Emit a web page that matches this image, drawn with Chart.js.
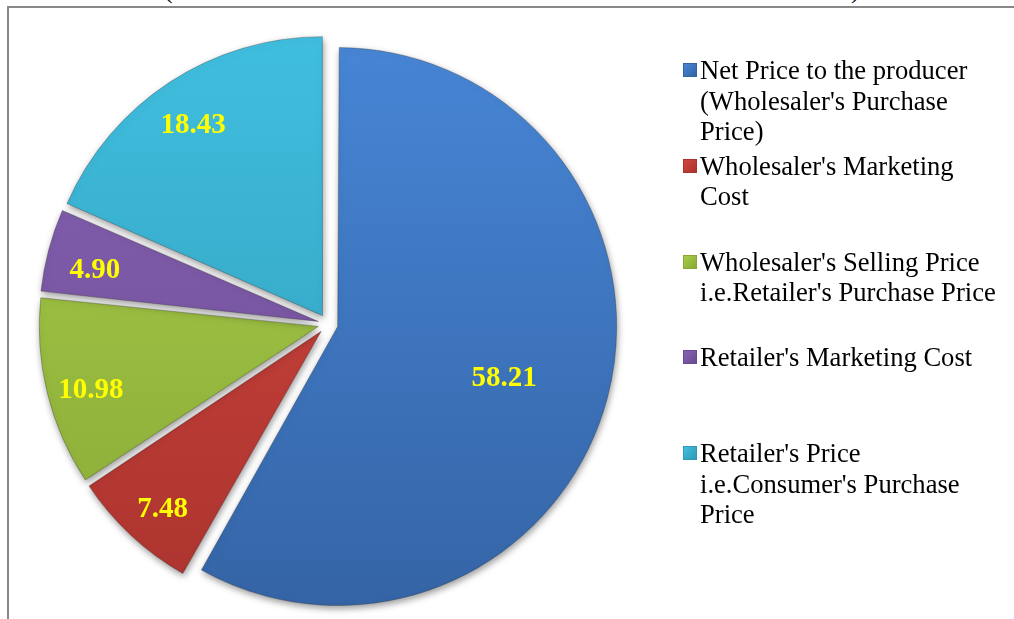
<!DOCTYPE html>
<html>
<head>
<meta charset="utf-8">
<script src="https://cdn.jsdelivr.net/npm/chart.js@4.4.1/dist/chart.umd.min.js"></script>
<style>
  html, body { margin: 0; padding: 0; background: #fff; overflow: hidden; }
  #wrap { position: relative; width: 1014px; height: 619px; overflow: hidden; }
  #frame {
    position: absolute; left: 7px; top: 6px; width: 1010px; height: 640px;
    border-left: 2px solid #888; border-top: 2px solid #888; box-sizing: border-box;
  }
  #chart { position: absolute; left: 0; top: 0; }
  .paren {
    position: absolute; top: -25px; font: 26px "Liberation Serif", serif;
    line-height: 30px; color: #000;
  }
  #legend { position: absolute; left: 0; top: 0; }
  .item {
    position: absolute; left: 700px; width: 310px;
    font: 26.6px "Liberation Serif", "Times New Roman", serif;
    line-height: 30.5px; color: #000; white-space: nowrap;
  }
  .mark {
    position: absolute; left: -17px; top: 8px; width: 14px; height: 14px;
    box-sizing: border-box;
  }
</style>
</head>
<body>
<div id="wrap">
  <div id="frame"></div>
  <span class="paren" style="left:164px">(</span>
  <span class="paren" style="left:851px">)</span>
  <canvas id="chart" width="1014" height="640"></canvas>
  <div id="legend"></div>
</div>
<script>
// shares of the consumer rupee, %
const categories = [
  ["Net Price to the producer", "(Wholesaler's Purchase", "Price)"],
  ["Wholesaler's Marketing", "Cost"],
  ["Wholesaler's Selling Price", "i.e.Retailer's Purchase Price"],
  ["Retailer's Marketing Cost"],
  ["Retailer's Price", "i.e.Consumer's Purchase", "Price"],
];
const shares = [58.21, 7.48, 10.98, 4.90, 18.43];
const shareLabels = ['58.21', '7.48', '10.98', '4.90', '18.43'];

// light (top) / dark (bottom) shade for each slice
const lightColors = ['#4786d6', '#d2463f', '#a8cf4a', '#8763b3', '#40bfe0'];
const darkColors = ['#3463a4', '#aa332e', '#88a736', '#6a4a92', '#3199b5'];

const ctx = document.getElementById('chart').getContext('2d');

const sliceFill = (context) => {
  const area = context.chart.chartArea;
  if (!area) return lightColors[context.dataIndex];
  const g = context.chart.ctx.createLinearGradient(0, area.top + 10, 0, area.bottom);
  g.addColorStop(0, lightColors[context.dataIndex]);
  g.addColorStop(1, darkColors[context.dataIndex]);
  return g;
};

// Chart.js grows the radius of exploded arcs a bit; undo that so all slices match
const evenRadius = {
  id: 'evenRadius',
  afterDatasetUpdate(chart) {
    chart.getDatasetMeta(0).data.forEach((arc) => {
      const fix = 1 - Math.sin(Math.min(Math.PI, arc.circumference));
      arc.outerRadius -= (arc.options.offset / 4) * fix;
    });
  },
};

// soft drop shadow under the slices
const shadowPlugin = {
  id: 'sliceShadow',
  beforeDatasetsDraw(chart) {
    const c = chart.ctx;
    c.save();
    c.shadowColor = 'rgba(0,0,0,0.4)';
    c.shadowBlur = 7;
    c.shadowOffsetX = 1;
    c.shadowOffsetY = 3;
  },
  afterDatasetsDraw(chart) {
    chart.ctx.restore();
  },
};

// yellow value labels inside the slices
const valuePlugin = {
  id: 'sliceValues',
  afterDraw(chart) {
    const c = chart.ctx;
    const meta = chart.getDatasetMeta(0);
    const total = shares.reduce((a, b) => a + b, 0);
    c.save();
    c.font = 'bold 29px "Liberation Serif", serif';
    c.fillStyle = '#ffff00';
    c.textAlign = 'center';
    c.textBaseline = 'middle';
    meta.data.forEach((arc, i) => {
      const mid = (arc.startAngle + arc.endAngle) / 2;
      const shift = arc.options.offset / 4;
      const cx = arc.x + Math.cos(mid) * shift;
      const cy = arc.y + Math.sin(mid) * shift;
      const frac = shares[i] / total > 0.5 ? 0.64 : 0.85;
      const r = arc.outerRadius * frac;
      c.fillText(shareLabels[i], cx + Math.cos(mid) * r, cy + Math.sin(mid) * r + 8);
    });
    c.restore();
  },
};

new Chart(ctx, {
  type: 'pie',
  data: {
    labels: categories,
    datasets: [
      {
        data: shares,
        backgroundColor: sliceFill,
        borderColor: 'rgba(40,40,40,0.3)',
        borderWidth: 1,
        offset: 40,
      },
    ],
  },
  options: {
    responsive: false,
    animation: false,
    layout: { padding: { left: 20, right: 378, top: 24.5, bottom: 16.5 } },
    plugins: {
      legend: { display: false },
      tooltip: { enabled: false },
    },
  },
  plugins: [evenRadius, shadowPlugin, valuePlugin],
});

// legend on the right, one slot per category
const legend = document.getElementById('legend');
categories.forEach((lines, i) => {
  const item = document.createElement('div');
  item.className = 'item';
  item.style.top = (55 + i * 95.75) + 'px';
  item.innerHTML = lines.join('<br>');
  const mark = document.createElement('span');
  mark.className = 'mark';
  mark.style.background =
    'linear-gradient(135deg, ' + lightColors[i] + ', ' + darkColors[i] + ')';
  mark.style.border = '1px solid ' + darkColors[i];
  item.appendChild(mark);
  legend.appendChild(item);
});
</script>
</body>
</html>
